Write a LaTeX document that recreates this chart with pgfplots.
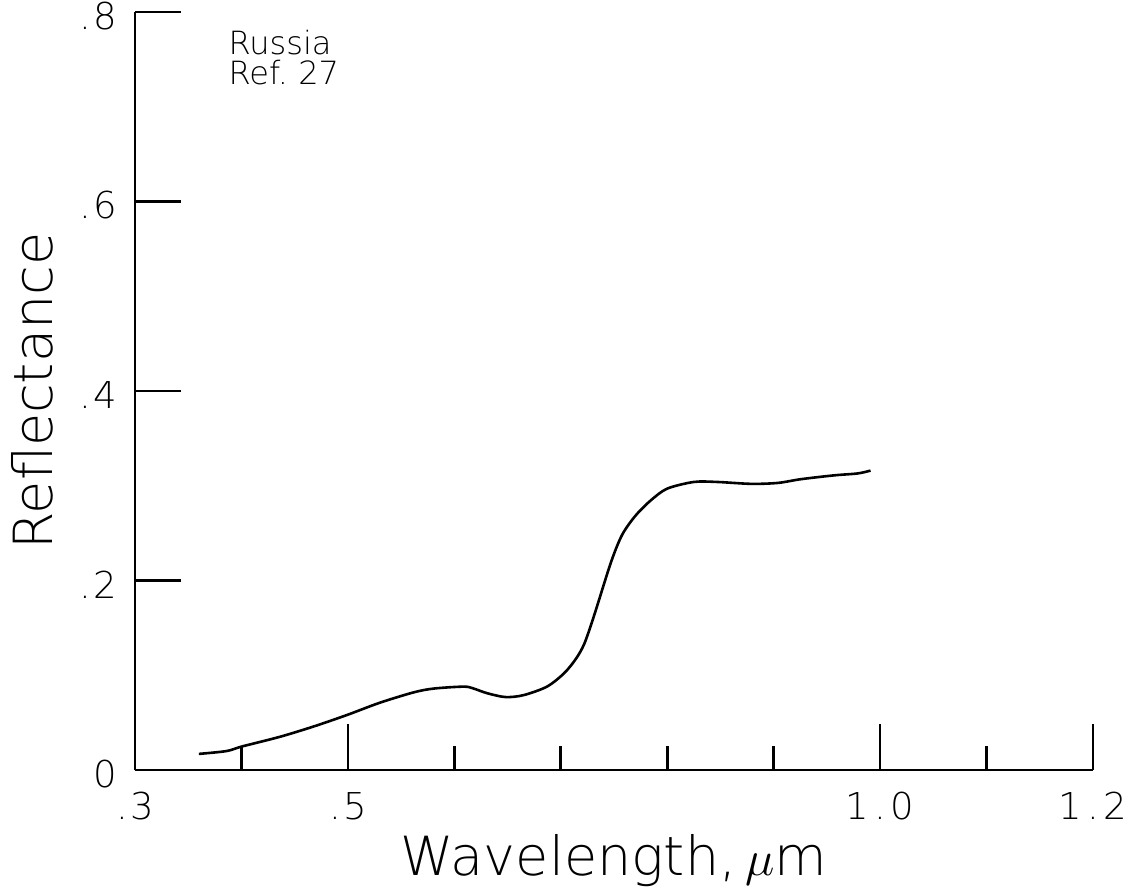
\documentclass[border=0pt]{standalone}
\usepackage{fontspec}
\setmainfont{DejaVu Sans ExtraLight}
\usepackage{pgfplots}
\pgfplotsset{compat=1.18}
\begin{document}
\begin{tikzpicture}
\begin{axis}[
  name=ax,
  scale only axis,
  width=479pt, height=379pt,
  xmin=0.3, xmax=1.2, ymin=0, ymax=0.8,
  axis x line=bottom, axis y line=left,
  axis line style={-, line width=1.3pt},
  tick align=inside,
  major tick length=23pt, minor tick length=12pt,
  every tick/.style={black, line width=1.3pt},
  xtick={0.3,0.5,1.0,1.2},
  xticklabels={{.\kern1pt3},{.\kern1pt5},{1\kern2.5pt.\kern2.5pt0},{1\kern2.5pt.\kern2.5pt2}},
  minor xtick={0.4,0.6,0.7,0.8,0.9,1.1},
  ytick={0,0.2,0.4,0.6,0.8},
  yticklabels={{0},{.\kern1pt2},{.\kern1pt4},{.\kern1pt6},{.\kern1pt8}},
  ticklabel style={font=\fontsize{18.5}{20}\selectfont},
  xticklabel style={anchor=north, inner sep=0pt, yshift=-11pt},
  yticklabel style={anchor=east, inner sep=0pt, xshift=-9pt, yshift=-2pt},
  xlabel={Wavelength,\,$\mu$m},
  ylabel={Reflectance},
  label style={font=\fontsize{27}{30}\selectfont},
  xlabel style={at={(axis description cs:0.5,0)}, anchor=base, yshift=-52.5pt},
  ylabel style={at={([xshift=-41pt]axis description cs:0,0.5)}, anchor=base},
  clip=false,
]
\addplot[black, line width=1.3pt, smooth] coordinates {
(0.360,0.017) (0.386,0.020) (0.401,0.025) (0.436,0.035) (0.468,0.046)
(0.499,0.058) (0.530,0.071) (0.562,0.082) (0.581,0.086) (0.609,0.088)
(0.618,0.086) (0.631,0.081) (0.648,0.077) (0.665,0.079) (0.687,0.088)
(0.703,0.102) (0.714,0.117) (0.722,0.133) (0.731,0.162) (0.745,0.212)
(0.752,0.234) (0.758,0.249) (0.765,0.261) (0.773,0.272) (0.785,0.285)
(0.800,0.297) (0.825,0.304) (0.847,0.304)
(0.879,0.302) (0.904,0.303) (0.926,0.307) (0.957,0.311) (0.979,0.313)
(0.991,0.316)
};
\node[anchor=north west, align=left, inner sep=0pt, font=\fontsize{16}{15}\selectfont]
  at (axis cs:0.3875,0.781) {Russia\\Ref.\ 27};
\end{axis}
\pgfresetboundingbox
\path ([xshift=-67.5pt,yshift=-60.5pt]ax.south west) rectangle ([xshift=22.5pt,yshift=6pt]ax.north east);
\end{tikzpicture}
\end{document}
